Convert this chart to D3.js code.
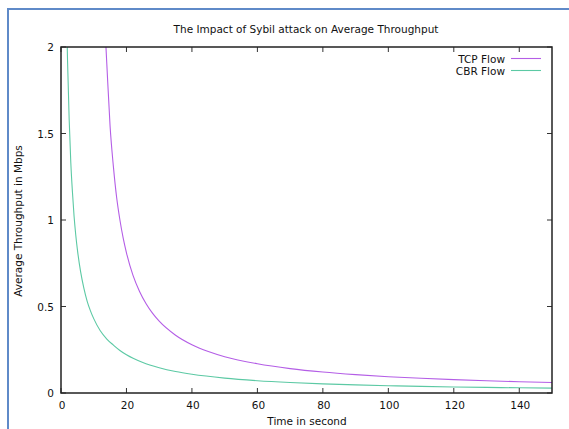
<!DOCTYPE html>
<html><head><meta charset="utf-8">
<script src="https://cdn.jsdelivr.net/npm/d3@7"></script>
<style>body{margin:0;background:#fff}svg{display:block}text{font-family:"DejaVu Sans",sans-serif;fill:#111}</style>
</head><body>
<svg id="c" width="569" height="429"></svg>
<script>
const title = "The Impact of Sybil attack on Average Throughput";
const xLabel = "Time in second";
const yLabel = "Average Throughput in Mbps";
const seriesNames = ["TCP Flow", "CBR Flow"];
const xTicks = [0, 20, 40, 60, 80, 100, 120, 140];
const yTicks = [0, 0.5, 1, 1.5, 2];
const yTickLabels = ["0", "0.5", "1", "1.5", "2"];
const tcpTime = [13.6,14,15,16,17,18,19,20,22,24,26,28,30,35,40,45,50,60,70,80,90,100,110,120,130,140,150];
const tcpValue = [2.05,1.90,1.54,1.31,1.13,1.00,0.895,0.81,0.68,0.587,0.516,0.46,0.415,0.334,0.279,0.24,0.21,0.169,0.141,0.121,0.106,0.094,0.085,0.0772,0.0707,0.0652,0.0606];
const cbrTime = [1.85,2,2.5,3,3.5,4,4.5,5,6,7,8,9,10,12,14,16,18,20,25,30,35,40,50,60,70,80,90,100,110,120,130,140,150];
const cbrValue = [2.05,1.92,1.58,1.33,1.16,1.02,0.915,0.83,0.70,0.605,0.53,0.475,0.43,0.36,0.312,0.277,0.246,0.221,0.176,0.146,0.124,0.108,0.0858,0.0711,0.0608,0.053,0.047,0.0423,0.0384,0.0351,0.0324,0.0301,0.028];
const colors = ["#b45ee6", "#5cc9a4"];

const svg = d3.select("#c");
// outer blue frame
svg.append("line").attr("x1",8).attr("y1",9).attr("x2",8).attr("y2",429).attr("stroke","#5f8ac8").attr("stroke-width",2);
svg.append("line").attr("x1",7).attr("y1",9).attr("x2",569).attr("y2",9).attr("stroke","#5f8ac8").attr("stroke-width",2);

const L=61, R=552, T=47, B=393;
const x = d3.scaleLinear().domain([0,150]).range([L,R]);
const y = d3.scaleLinear().domain([0,2]).range([B,T]);

svg.append("clipPath").attr("id","clip").append("rect").attr("x",L).attr("y",T).attr("width",R-L).attr("height",B-T);

const line = d3.line().x(d=>x(d[0])).y(d=>y(d[1])).curve(d3.curveMonotoneX);
const data = [d3.zip(tcpTime,tcpValue), d3.zip(cbrTime,cbrValue)];
data.forEach((d,i)=>{
  svg.append("path").attr("d",line(d)).attr("fill","none").attr("stroke",colors[i]).attr("stroke-width",1.1).attr("clip-path","url(#clip)");
});

// ticks (inward, mirrored)
const tk = 5;
const g = svg.append("g").attr("stroke","#333").attr("stroke-width",1);
xTicks.forEach(t=>{
  g.append("line").attr("x1",x(t)).attr("x2",x(t)).attr("y1",B).attr("y2",B-tk);
  g.append("line").attr("x1",x(t)).attr("x2",x(t)).attr("y1",T).attr("y2",T+tk);
});
yTicks.forEach(t=>{
  g.append("line").attr("x1",L).attr("x2",L+tk).attr("y1",y(t)).attr("y2",y(t));
  g.append("line").attr("x1",R).attr("x2",R-tk).attr("y1",y(t)).attr("y2",y(t));
});
svg.append("rect").attr("x",L).attr("y",T).attr("width",R-L).attr("height",B-T).attr("fill","none").attr("stroke","#222").attr("stroke-width",1.5);

const fs = "10.5px";
xTicks.forEach(t=>{
  svg.append("text").attr("x",x(t)+1).attr("y",409).attr("text-anchor","middle").style("font-size",fs).text(t);
});
yTicks.forEach((t,i)=>{
  svg.append("text").attr("x",54).attr("y",y(t)+4).attr("text-anchor","end").style("font-size",fs).text(yTickLabels[i]);
});
svg.append("text").attr("x",306).attr("y",33).attr("text-anchor","middle").style("font-size",fs).text(title);
svg.append("text").attr("x",307).attr("y",425).attr("text-anchor","middle").style("font-size",fs).text(xLabel);
svg.append("text").attr("transform","translate(22,221) rotate(-90)").attr("text-anchor","middle").style("font-size",fs).text(yLabel);

seriesNames.forEach((n,i)=>{
  const yy = 58.5 + i*12;
  svg.append("text").attr("x",505).attr("y",yy+4).attr("text-anchor","end").style("font-size",fs).text(n);
  svg.append("line").attr("x1",511).attr("x2",541).attr("y1",yy).attr("y2",yy).attr("stroke",colors[i]).attr("stroke-width",1.1);
});
</script>
</body></html>
